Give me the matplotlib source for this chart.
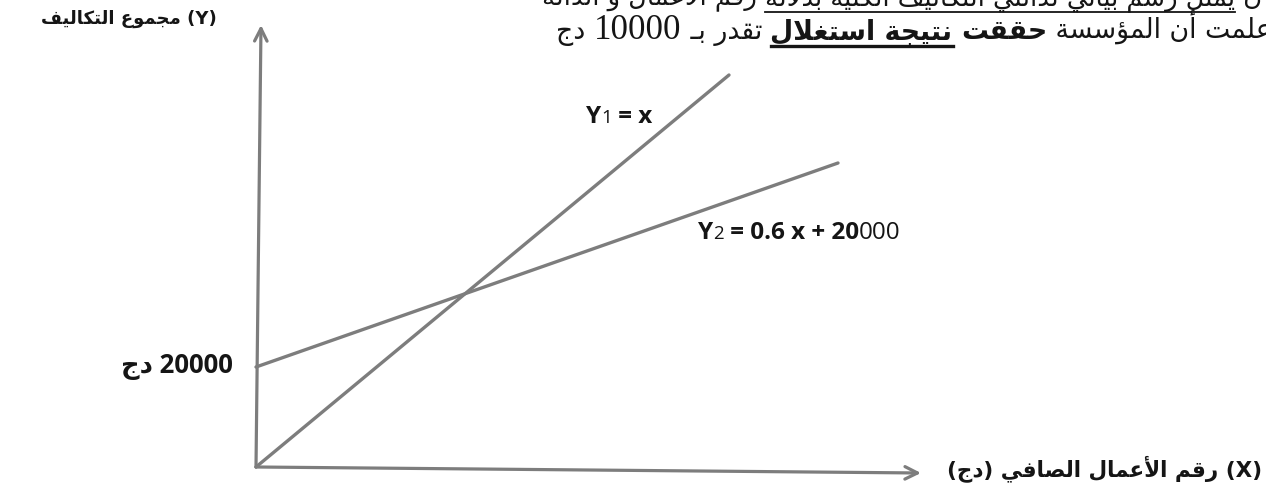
import re
import matplotlib
matplotlib.use("Agg")
import matplotlib.pyplot as plt
from matplotlib.lines import Line2D

# ---- data (DA); the drawing is schematic, not to scale ----
y1_x = [0, 94600]
y1_y = [0, 78400]
y2_x = [0, 116400]
y2_y = [20000, 60800]
intercept = 20000

x_axis_end = [133000, -1200]
y_axis_end = [1000, 88400]

y_label = "(Y) مجموع التكاليف"
x_label = "(X) رقم الأعمال الصافي (دج)"
intercept_label = "20000 دج"
# equation labels as (text, style) pieces, left to right
y1_label = [("Y", "b"), ("1", "sub"), (" = x", "b")]
y2_label = [("Y", "b"), ("2", "sub"), (" = 0.6 x + 20", "b"), ("000", "r")]

# header lines of the exercise (logical order): (text, style)
line1 = [("ن ", "reg"), ("يمثل رسم بياني لدالتي التكاليف الكلية بدلالة", "ul"),
         (" رقم الأعمال و الدالة", "reg")]
line2 = [("علمت أن المؤسسة ", "reg"), ("حققت", "bold"), (" ", "reg"),
         ("نتيجة استغلال", "bold_ul"), (" تقدر بـ ", "reg"), ("10000", "num"), (" دج", "reg")]

# ---- minimal arabic shaping + rtl ordering (matplotlib has no text layout engine) ----
FORMS = {
    'ء': (0xFE80, None, None, None), 'آ': (0xFE81, 0xFE82, None, None),
    'أ': (0xFE83, 0xFE84, None, None), 'ؤ': (0xFE85, 0xFE86, None, None),
    'إ': (0xFE87, 0xFE88, None, None), 'ئ': (0xFE89, 0xFE8A, 0xFE8B, 0xFE8C),
    'ا': (0xFE8D, 0xFE8E, None, None), 'ب': (0xFE8F, 0xFE90, 0xFE91, 0xFE92),
    'ة': (0xFE93, 0xFE94, None, None), 'ت': (0xFE95, 0xFE96, 0xFE97, 0xFE98),
    'ث': (0xFE99, 0xFE9A, 0xFE9B, 0xFE9C), 'ج': (0xFE9D, 0xFE9E, 0xFE9F, 0xFEA0),
    'ح': (0xFEA1, 0xFEA2, 0xFEA3, 0xFEA4), 'خ': (0xFEA5, 0xFEA6, 0xFEA7, 0xFEA8),
    'د': (0xFEA9, 0xFEAA, None, None), 'ذ': (0xFEAB, 0xFEAC, None, None),
    'ر': (0xFEAD, 0xFEAE, None, None), 'ز': (0xFEAF, 0xFEB0, None, None),
    'س': (0xFEB1, 0xFEB2, 0xFEB3, 0xFEB4), 'ش': (0xFEB5, 0xFEB6, 0xFEB7, 0xFEB8),
    'ص': (0xFEB9, 0xFEBA, 0xFEBB, 0xFEBC), 'ض': (0xFEBD, 0xFEBE, 0xFEBF, 0xFEC0),
    'ط': (0xFEC1, 0xFEC2, 0xFEC3, 0xFEC4), 'ظ': (0xFEC5, 0xFEC6, 0xFEC7, 0xFEC8),
    'ع': (0xFEC9, 0xFECA, 0xFECB, 0xFECC), 'غ': (0xFECD, 0xFECE, 0xFECF, 0xFED0),
    'ف': (0xFED1, 0xFED2, 0xFED3, 0xFED4), 'ق': (0xFED5, 0xFED6, 0xFED7, 0xFED8),
    'ك': (0xFED9, 0xFEDA, 0xFEDB, 0xFEDC), 'ل': (0xFEDD, 0xFEDE, 0xFEDF, 0xFEE0),
    'م': (0xFEE1, 0xFEE2, 0xFEE3, 0xFEE4), 'ن': (0xFEE5, 0xFEE6, 0xFEE7, 0xFEE8),
    'ه': (0xFEE9, 0xFEEA, 0xFEEB, 0xFEEC), 'و': (0xFEED, 0xFEEE, None, None),
    'ى': (0xFEEF, 0xFEF0, None, None), 'ي': (0xFEF1, 0xFEF2, 0xFEF3, 0xFEF4),
}
LAM_ALEF = {'آ': (0xFEF5, 0xFEF6), 'أ': (0xFEF7, 0xFEF8),
            'إ': (0xFEF9, 0xFEFA), 'ا': (0xFEFB, 0xFEFC)}
TATWEEL = 'ـ'
MIRROR = str.maketrans("()", ")(")


def dual(c):
    return c == TATWEEL or (c in FORMS and FORMS[c][2] is not None)


def joining(c):
    return c == TATWEEL or (c in FORMS and FORMS[c][1] is not None)


def shape(s):
    out = []
    i = 0
    while i < len(s):
        c = s[i]
        if c not in FORMS:
            out.append(c)
            i += 1
            continue
        prev = s[i - 1] if i > 0 else ''
        conn_prev = dual(prev) and FORMS[c][1] is not None
        if c == 'ل' and i + 1 < len(s) and s[i + 1] in LAM_ALEF:
            iso, fin = LAM_ALEF[s[i + 1]]
            out.append(chr(fin if conn_prev else iso))
            i += 2
            continue
        nxt = s[i + 1] if i + 1 < len(s) else ''
        conn_next = FORMS[c][2] is not None and joining(nxt)
        iso, fin, ini, med = FORMS[c]
        if conn_prev and conn_next:
            code = med
        elif conn_prev:
            code = fin
        elif conn_next:
            code = ini
        else:
            code = iso
        out.append(chr(code))
        i += 1
    return ''.join(out)


def rtl(s):
    tokens = re.findall(r'[0-9A-Za-z]+(?:[.,][0-9]+)*|[^0-9A-Za-z]+', shape(s))
    out = []
    for t in reversed(tokens):
        if re.match(r'[0-9A-Za-z]', t):
            out.append(t)
        else:
            out.append(t[::-1].translate(MIRROR))
    return ''.join(out)


# ---- figure ----
W, H = 1266, 499
fig = plt.figure(figsize=(W / 100, H / 100), dpi=100)
fig.patch.set_facecolor("white")
ax = fig.add_axes([0, 0, 1, 1])
ax.axis("off")
# 200 DA per pixel, origin of the sketch at pixel (256, 467)
ax.set_xlim(-256 * 200, (W - 256) * 200)
ax.set_ylim(-(H - 467) * 200, 467 * 200)

gray = "#7d7d7d"
ink = "#151515"

# axes with open arrow heads
arrow = dict(arrowstyle="->,head_length=0.9,head_width=0.45", lw=2.3, color=gray,
             shrinkA=0, shrinkB=0)
ax.annotate("", xy=(x_axis_end[0], x_axis_end[1]), xytext=(0, 0), arrowprops=arrow)
ax.annotate("", xy=(y_axis_end[0], y_axis_end[1]), xytext=(0, 0), arrowprops=arrow)

# cost lines
ax.plot(y1_x, y1_y, color=gray, lw=2.4, solid_capstyle="round")
ax.plot(y2_x, y2_y, color=gray, lw=2.4, solid_capstyle="round")


def fx(px):
    return px / W


def fy(py):
    return 1 - py / H


renderer = fig.canvas.get_renderer()

ar_bold = dict(family=["DejaVu Sans"], weight="bold", color=ink)
fig.text(fx(217), fy(19), rtl(y_label), ha="right", va="center", fontsize=13, **ar_bold)
fig.text(fx(1262), fy(469), rtl(x_label), ha="right", va="center", fontsize=15.5, **ar_bold)
ax.text(-23 * 200, intercept, rtl(intercept_label), ha="right", va="center",
        fontsize=18.5, family=["Open Sans", "DejaVu Sans"], weight="bold", color=ink)

eq_styles = {
    "b": dict(weight="bold", size=17.5),
    "sub": dict(weight="normal", size=13.5),
    "r": dict(weight="normal", size=17.5),
}


def eq_label(pieces, x_left, y_base):
    x = x_left
    for text, st in pieces:
        kw = eq_styles[st]
        t = fig.text(fx(x), fy(y_base), text, ha="left", va="baseline",
                     family=["Open Sans", "DejaVu Sans"], color=ink,
                     fontsize=kw["size"], weight=kw["weight"])
        x += t.get_window_extent(renderer).width


eq_label(y1_label, 586, 123)
eq_label(y2_label, 698, 239)

styles = {
    "reg": dict(family=["DejaVu Sans"], weight="normal"),
    "ul": dict(family=["DejaVu Sans"], weight="normal"),
    "bold": dict(family=["DejaVu Sans"], weight="bold"),
    "bold_ul": dict(family=["DejaVu Sans"], weight="bold"),
    "num": dict(family=["Liberation Serif"], weight="normal"),
}


def rtl_line(segments, x_right, y_base, size):
    x = x_right
    for text, st in segments:
        kw = styles[st]
        fs = size * 1.3 if st == "num" else size
        t = fig.text(fx(x), fy(y_base), rtl(text), ha="right", va="baseline",
                     fontsize=fs, color=ink, **kw)
        b = t.get_window_extent(renderer)
        if st.endswith("ul"):
            lw = 2.4 if st == "bold_ul" else 1.3
            fig.add_artist(Line2D([fx(b.x0), fx(b.x1)], [fy(y_base + 7)] * 2,
                                  color=ink, lw=lw))
        x -= b.width


rtl_line(line1, 1262, 5, 18.5)
rtl_line(line2, 1272, 39, 19.3)

fig.savefig("out.png", dpi=100)
